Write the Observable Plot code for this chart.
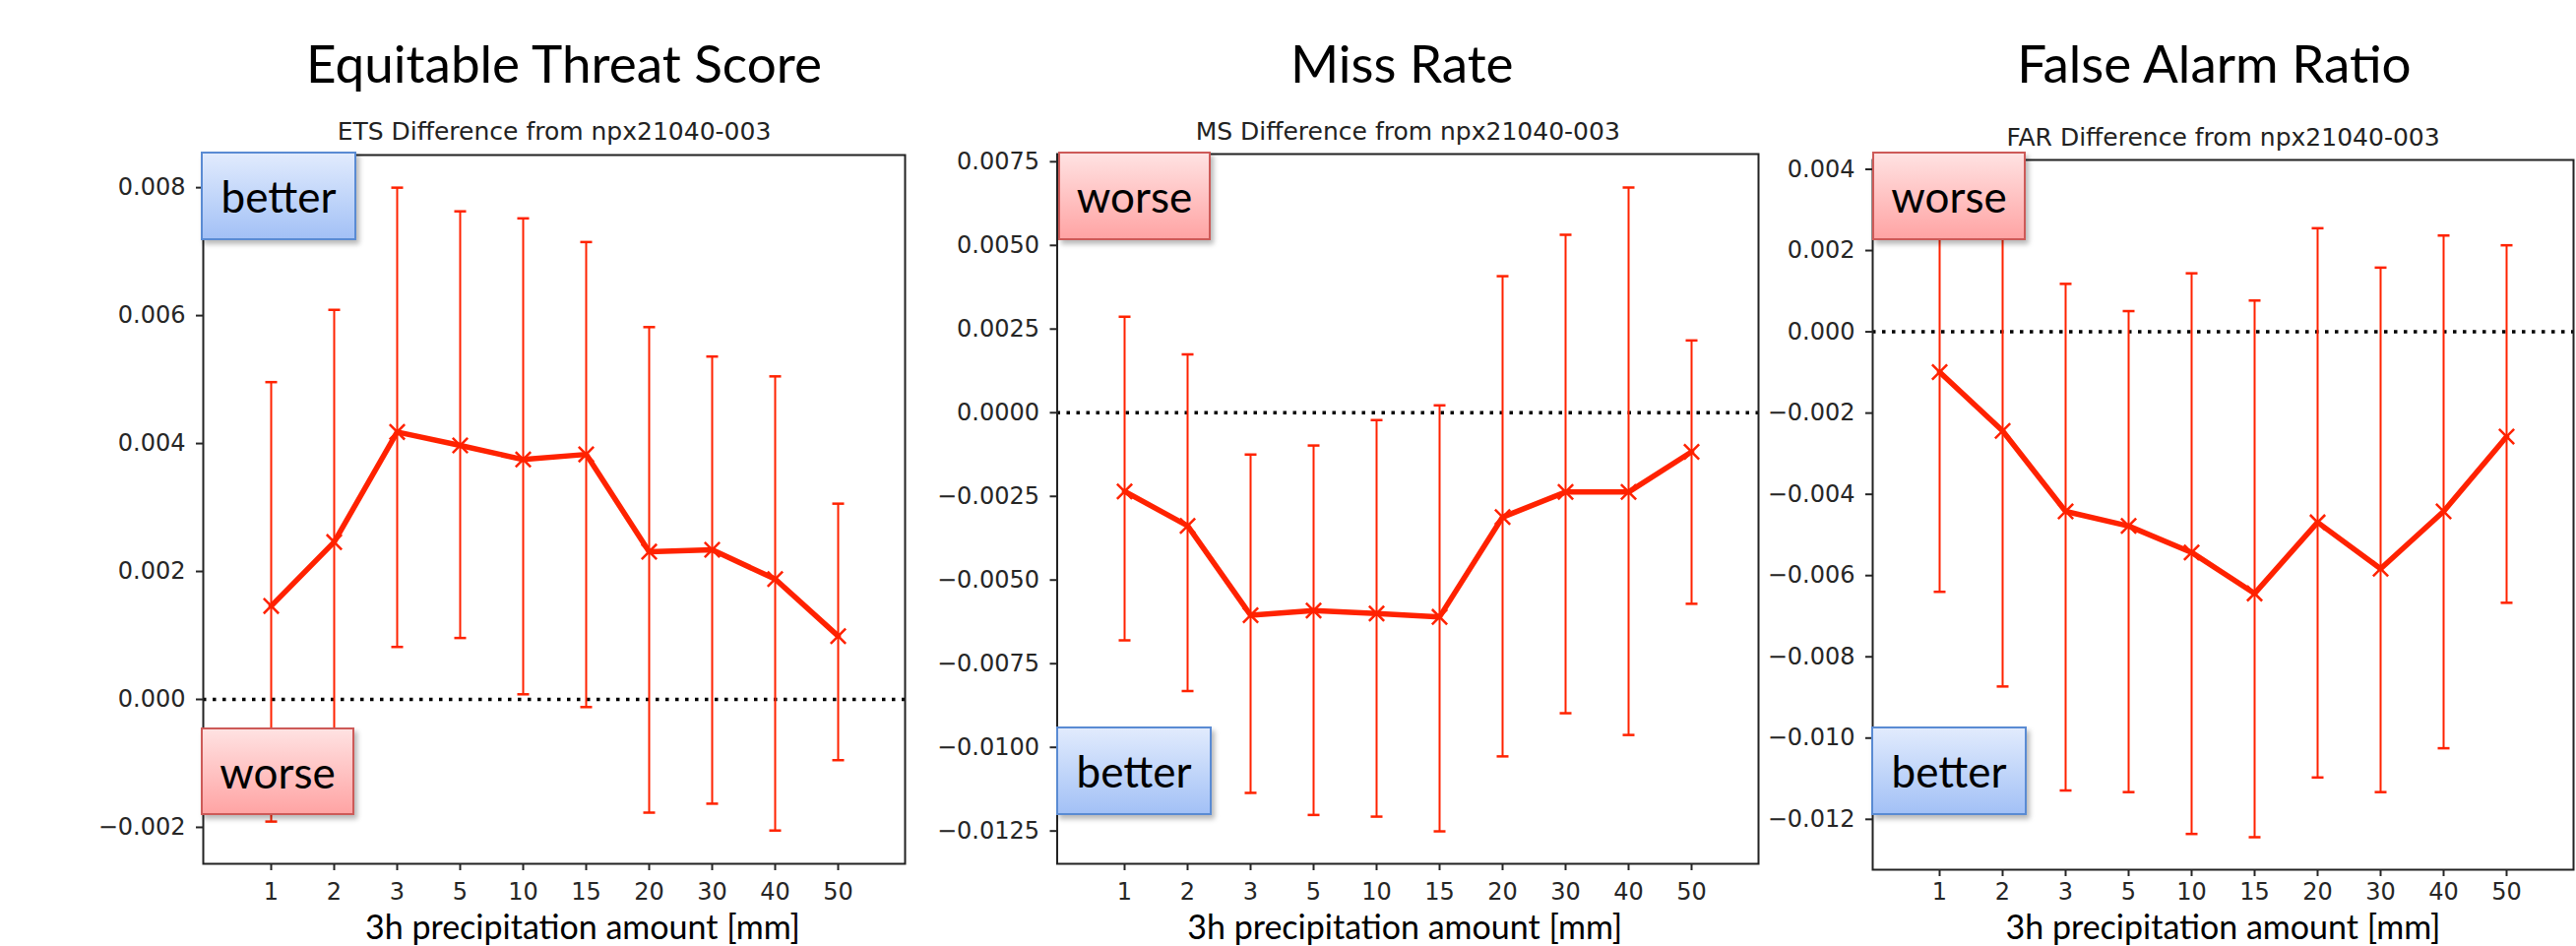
<!DOCTYPE html>
<html>
<head>
<meta charset="utf-8">
<script src="https://cdn.jsdelivr.net/npm/d3@7"></script>
<script src="https://cdn.jsdelivr.net/npm/@observablehq/plot@0.6"></script>
<style>
  html, body { margin: 0; padding: 0; background: #fff; }
  #page { position: relative; width: 2617px; height: 961px; background: #fff; overflow: hidden; }
  .panel { position: absolute; top: 0; }
  .panel svg { overflow: visible; }
  .box {
    position: absolute; box-sizing: border-box;
    display: flex; align-items: center; justify-content: center;
    font-family: Lato, "Open Sans", sans-serif; font-size: 44px; color: #000;
    box-shadow: 3px 4px 5px rgba(0,0,0,0.28);
  }
  .better { background: linear-gradient(to bottom, #e1ebfd, #a3c1f6); border: 2px solid #5a8bd3; }
  .worse  { background: linear-gradient(to bottom, #ffe2e2, #ffa4a4); border: 2px solid #cd5a58; }
</style>
</head>
<body>
<div id="page"></div>
<script>
// ---- data ----
const categories = ["1", "2", "3", "5", "10", "15", "20", "30", "40", "50"];

const etsMean = [0.00146, 0.00246, 0.00418, 0.00397, 0.00375, 0.00383, 0.00231, 0.00234, 0.00188, 0.00099];
const etsLow  = [-0.00191, -0.00117, 0.00082, 0.00096, 0.00008, -0.00012, -0.00177, -0.00163, -0.00205, -0.00095];
const etsHigh = [0.00496, 0.00609, 0.00800, 0.00763, 0.00752, 0.00715, 0.00582, 0.00536, 0.00505, 0.00306];

const msMean = [-0.00235, -0.00338, -0.00605, -0.00591, -0.00600, -0.00610, -0.00312, -0.00237, -0.00237, -0.00117];
const msLow  = [-0.00680, -0.00832, -0.01136, -0.01202, -0.01207, -0.01251, -0.01027, -0.00898, -0.00963, -0.00571];
const msHigh = [0.00287, 0.00174, -0.00125, -0.00098, -0.00022, 0.00022, 0.00408, 0.00532, 0.00673, 0.00216];

const farMean = [-0.00099, -0.00244, -0.00442, -0.00478, -0.00543, -0.00644, -0.00469, -0.00583, -0.00442, -0.00258];
const farLow  = [-0.00640, -0.00873, -0.01129, -0.01133, -0.01236, -0.01244, -0.01097, -0.01133, -0.01025, -0.00667];
const farHigh = [0.00440, 0.00385, 0.00118, 0.00051, 0.00144, 0.00077, 0.00255, 0.00158, 0.00237, 0.00213];

const etsTicks = [-0.002, 0, 0.002, 0.004, 0.006, 0.008];
const msTicks  = [-0.0125, -0.01, -0.0075, -0.005, -0.0025, 0, 0.0025, 0.005, 0.0075];
const farTicks = [-0.012, -0.01, -0.008, -0.006, -0.004, -0.002, 0, 0.002, 0.004];

const titles    = ["Equitable Threat Score", "Miss Rate", "False Alarm Ratio"];
const subtitles = ["ETS Difference from npx21040-003", "MS Difference from npx21040-003", "FAR Difference from npx21040-003"];
const xLabel = "3h precipitation amount [mm]";

// ---- drawing ----
const RED = "#ff2200";
const capSymbol = {
  draw(context, size) {
    const r = Math.sqrt(size / Math.PI);
    context.moveTo(-r, 0);
    context.lineTo(r, 0);
  }
};

function makePanel(cfg) {
  const data = categories.map((c, i) => ({cat: c, mean: cfg.mean[i], lo: cfg.low[i], hi: cfg.high[i]}));
  const chart = Plot.plot({
    width: cfg.width,
    height: 961,
    marginLeft: cfg.ml, marginRight: cfg.mr, marginTop: cfg.mt, marginBottom: cfg.mb,
    style: {fontFamily: "'DejaVu Sans', sans-serif", fontSize: "24px", color: "#262626", background: "transparent"},
    x: {type: "point", domain: categories, padding: 1},
    y: {domain: cfg.domain},
    marks: [
      Plot.ruleY([0], {stroke: "#000", strokeWidth: 3.5, strokeDasharray: "3.5,6.5"}),
      Plot.ruleX(data, {x: "cat", y1: "lo", y2: "hi", stroke: RED, strokeWidth: 2, clip: true}),
      Plot.dot(data, {x: "cat", y: "hi", symbol: capSymbol, r: 6, stroke: RED, strokeWidth: 2.5, clip: true}),
      Plot.dot(data, {x: "cat", y: "lo", symbol: capSymbol, r: 6, stroke: RED, strokeWidth: 2.5, clip: true}),
      Plot.line(data, {x: "cat", y: "mean", stroke: RED, strokeWidth: 5.5, strokeLinejoin: "round"}),
      Plot.dot(data, {x: "cat", y: "mean", symbol: "times", r: 7, stroke: RED, strokeWidth: 2.5}),
      Plot.frame({stroke: "#222", strokeWidth: 2}),
      Plot.axisY({ticks: cfg.ticks, tickFormat: d3.format(cfg.fmt), tickSize: 7, tickPadding: 11, strokeWidth: 2, label: null}),
      Plot.axisX({tickSize: 7, tickPadding: cfg.xPad, strokeWidth: 2, label: null}),
      Plot.text([cfg.subtitle], {frameAnchor: "top", text: d => d, dy: cfg.subDy, lineAnchor: "bottom", fontSize: 25, fill: "#222"}),
      Plot.text([cfg.title], {frameAnchor: "top", text: d => d, dy: cfg.titleDy, dx: cfg.titleDx, lineAnchor: "bottom", fontSize: 53, fontFamily: "Lato, 'Open Sans', sans-serif", fill: "#000"}),
      Plot.text([xLabel], {frameAnchor: "bottom", text: d => d, dy: cfg.xlabDy, dx: cfg.xlabDx, lineAnchor: "bottom", fontSize: 34, fontFamily: "Lato, 'Open Sans', sans-serif", fill: "#000"})
    ]
  });
  const holder = document.createElement("div");
  holder.className = "panel";
  holder.style.left = cfg.left + "px";
  holder.appendChild(chart);
  document.getElementById("page").appendChild(holder);
}

makePanel({
  mean: etsMean, low: etsLow, high: etsHigh, ticks: etsTicks, fmt: ".3f",
  domain: [-0.00257, 0.00851], title: titles[0], subtitle: subtitles[0],
  left: 0, width: 930, ml: 206, mr: 11, mt: 157, mb: 84, xPad: 12,
  subDy: -16, titleDy: -74, titleDx: 10, xlabDy: 76, xlabDx: 29
});
makePanel({
  mean: msMean, low: msLow, high: msHigh, ticks: msTicks, fmt: ".4f",
  domain: [-0.01348, 0.00773], title: titles[1], subtitle: subtitles[1],
  left: 930, width: 859, ml: 143.5, mr: 3, mt: 156, mb: 84, xPad: 12,
  subDy: -15, titleDy: -73, titleDx: -6, xlabDy: 76, xlabDx: -3
});
makePanel({
  mean: farMean, low: farLow, high: farHigh, ticks: farTicks, fmt: ".3f",
  domain: [-0.01324, 0.00423], title: titles[2], subtitle: subtitles[2],
  left: 1789, width: 828, ml: 113, mr: 3, mt: 162, mb: 78, xPad: 6,
  subDy: -15, titleDy: -79, titleDx: -9, xlabDy: 70, xlabDx: 0
});

// ---- annotation boxes ----
const boxes = [
  {cls: "better", text: "better", left: 204, top: 154, w: 158, h: 90},
  {cls: "worse",  text: "worse",  left: 204, top: 739, w: 156, h: 89},
  {cls: "worse",  text: "worse",  left: 1075, top: 154, w: 155, h: 90},
  {cls: "better", text: "better", left: 1073, top: 738, w: 158, h: 90},
  {cls: "worse",  text: "worse",  left: 1902, top: 154, w: 156, h: 90},
  {cls: "better", text: "better", left: 1901, top: 738, w: 158, h: 90}
];
for (const b of boxes) {
  const el = document.createElement("div");
  el.className = "box " + b.cls;
  el.textContent = b.text;
  Object.assign(el.style, {left: b.left + "px", top: b.top + "px", width: b.w + "px", height: b.h + "px"});
  document.getElementById("page").appendChild(el);
}
</script>
</body>
</html>
